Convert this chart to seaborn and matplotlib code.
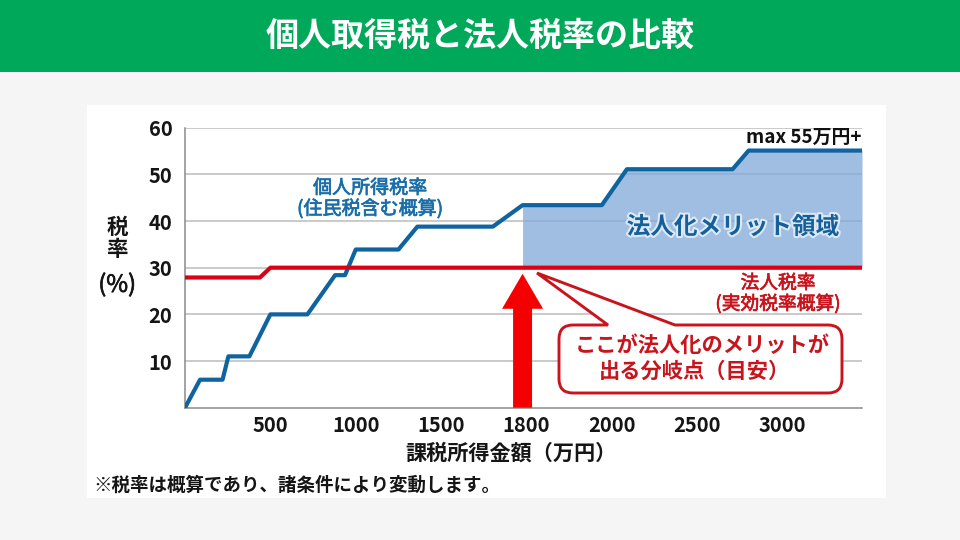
import numpy as np
import pandas as pd
import matplotlib
matplotlib.use("Agg")
import matplotlib.pyplot as plt
import matplotlib.patches as mp
import matplotlib.patheffects as pe
from matplotlib.path import Path
import seaborn as sns

# x values are slot positions of the reference axis: its labels are not evenly scaled (…1500, 1800, 2000…)
personal_x = [0, 88, 220, 254, 377, 500, 717, 879, 937, 1000, 1250, 1361, 1803, 1977, 2441, 2588, 3207, 3301, 3965]
personal_rate = [0, 6, 6, 11, 11, 20, 20, 28.4, 28.4, 33.9, 33.9, 38.8, 38.8, 43.4, 43.4, 51.1, 51.1, 55.1, 55.1]
corporate_x = [0, 439, 500, 3965]
corporate_rate = [27.9, 27.9, 30, 30]
tick_pos = [500, 1000, 1500, 2000, 2500, 3000, 3500]
tick_labels = ["500", "1000", "1500", "1800", "2000", "2500", "3000"]
y_ticks = [10, 20, 30, 40, 50, 60]
breakeven_x = 1977
corp_level = 30

BLUE, RED, DRED = "#0f639f", "#dc0012", "#c8141c"

sns.set_theme(style="white")
plt.rcParams["font.family"] = ["Noto Sans CJK JP", "DejaVu Sans"]
fig = plt.figure(figsize=(9.6, 5.4), dpi=100, facecolor="#f5f5f5")

def overlay(z):
    a = fig.add_axes([0, 0, 1, 1], zorder=z)
    a.set_xlim(0, 960); a.set_ylim(540, 0); a.axis("off"); a.patch.set_alpha(0)
    return a

bg = overlay(0)
bg.add_patch(mp.Rectangle((0, 0), 960, 72, color="#00a85a", lw=0))
bg.add_patch(mp.Rectangle((87, 105), 799, 393, color="white", lw=0))
bg.text(480, 36, "個人取得税と法人税率の比較", color="white", fontsize=23.8, fontweight="bold", ha="center", va="center")

ax = fig.add_axes([185/960, 1-407.7/540, (862-185)/960, 280/540], zorder=1)
ax.patch.set_alpha(0)
df_p = pd.DataFrame({"x": personal_x, "y": personal_rate})
df_c = pd.DataFrame({"x": corporate_x, "y": corporate_rate})
ax.set_xlim(0, 3965); ax.set_ylim(0, 60)
ax.grid(axis="y", color="#bcbcbc", lw=1.1, zorder=0)
ax.set_axisbelow(True)
sel = df_p[df_p.x >= breakeven_x]
ax.fill_between(sel.x, corp_level, sel.y, color="#7fa9d8", alpha=0.75, lw=0, zorder=1)
sns.lineplot(data=df_p, x="x", y="y", ax=ax, color=BLUE, lw=3, legend=False, zorder=3, errorbar=None, sort=False)
sns.lineplot(data=df_c, x="x", y="y", ax=ax, color=RED, lw=3, legend=False, zorder=4, errorbar=None, sort=False)
ax.set_xticks(tick_pos, tick_labels)
ax.set_yticks(y_ticks)
ax.set_xlabel(""); ax.set_ylabel("")
ax.tick_params(axis="x", direction="in", length=5, width=1, color="#707070", pad=5, labelsize=14.5)
ax.tick_params(axis="y", length=0, pad=9, labelsize=14.5)
for t in ax.get_xticklabels() + ax.get_yticklabels():
    t.set_fontweight("bold"); t.set_color("#151515")
for s in ("top", "right"):
    ax.spines[s].set_visible(False)
for s in ("left", "bottom"):
    ax.spines[s].set_color("#8a8a8a"); ax.spines[s].set_linewidth(1.1)

ax.add_patch(mp.FancyArrow(breakeven_x, 0, 0, 28.7, width=111, head_width=240, head_length=7.5,
                           length_includes_head=True, color="#f50000", lw=0, zorder=5, clip_on=False))

fg = overlay(2)
medium = [pe.withStroke(linewidth=0.5, foreground="#1a6ea8")]
medium_r = [pe.withStroke(linewidth=0.5, foreground=DRED)]
fg.text(370, 188, "個人所得税率", color="#1a6ea8", fontsize=13.7, ha="center", va="center", path_effects=medium)
fg.text(370, 209, "(住民税含む概算)", color="#1a6ea8", fontsize=13.7, ha="center", va="center", path_effects=medium)
fg.text(733, 227, "法人化メリット領域", color="#14609a", fontsize=17, fontweight="bold", ha="center", va="center",
        path_effects=[pe.withStroke(linewidth=3, foreground="#dce8f5")])
fg.text(804, 137, "max 55万円+", color="#111111", fontsize=13.6, fontweight="bold", ha="center", va="center")
fg.text(778, 283, "法人税率", color=DRED, fontsize=13.5, ha="center", va="center", path_effects=medium_r)
fg.text(778, 304, "(実効税率概算)", color=DRED, fontsize=13.5, ha="center", va="center", path_effects=medium_r)
fg.text(117, 227, "税", color="#151515", fontsize=15.5, fontweight="bold", ha="center", va="center")
fg.text(117, 250, "率", color="#151515", fontsize=15.5, fontweight="bold", ha="center", va="center")
fg.text(117, 285, "(%)", color="#151515", fontsize=17, ha="center", va="center",
        path_effects=[pe.withStroke(linewidth=0.5, foreground="#151515")])
fg.text(511, 453, "課税所得金額（万円）", color="#151515", fontsize=15.2, fontweight="bold", ha="center", va="center")
fg.text(93, 485, "※税率は概算であり、諸条件により変動します。", color="#151515", fontsize=13.3, fontweight="bold", ha="left", va="center")

# rounded callout with tail
L, R, T, B, r = 559, 842, 325, 393, 14
verts = [(L+r, T), (608, T), (537, 273), (675, T), (R-r, T), (R, T), (R, T+r), (R, B-r), (R, B), (R-r, B),
         (L+r, B), (L, B), (L, B-r), (L, T+r), (L, T), (L+r, T), (L+r, T)]
codes = [Path.MOVETO, Path.LINETO, Path.LINETO, Path.LINETO, Path.LINETO, Path.CURVE3, Path.CURVE3, Path.LINETO,
         Path.CURVE3, Path.CURVE3, Path.LINETO, Path.CURVE3, Path.CURVE3, Path.LINETO, Path.CURVE3, Path.CURVE3, Path.CLOSEPOLY]
fg.add_patch(mp.PathPatch(Path(verts, codes), facecolor="white", edgecolor=DRED, lw=2.1, joinstyle="miter"))
fg.text(702, 345, "ここが法人化のメリットが", color=DRED, fontsize=15.3, fontweight="bold", ha="center", va="center")
fg.text(694, 371, "出る分岐点（目安）", color=DRED, fontsize=15.3, fontweight="bold", ha="center", va="center")

fig.savefig("out.png", dpi=100, facecolor=fig.get_facecolor())
